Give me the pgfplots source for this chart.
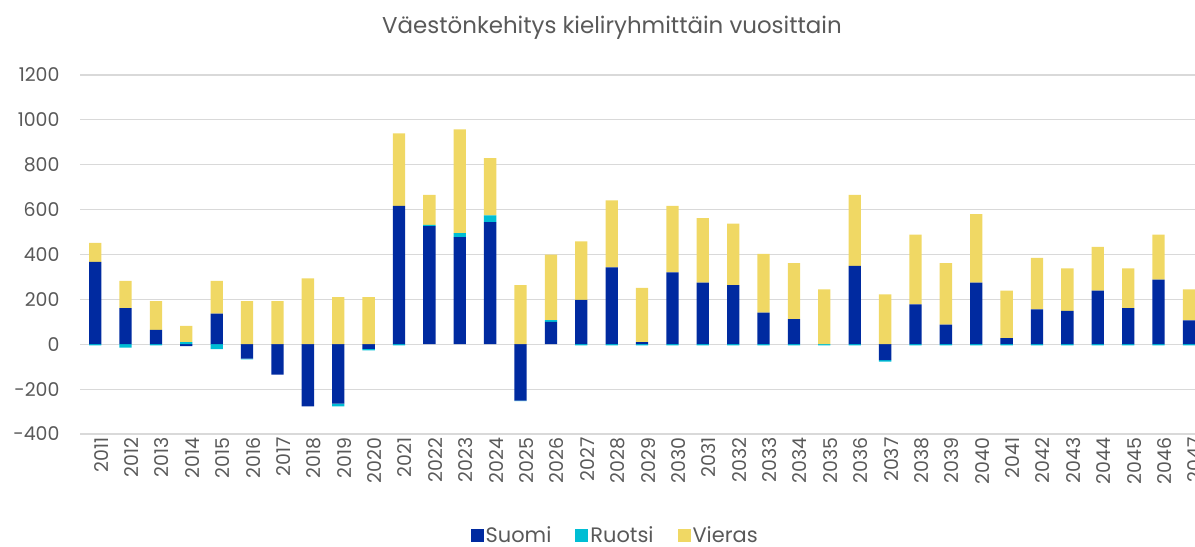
\documentclass[border=0pt]{standalone}
\usepackage{pgfplots}
\pgfplotsset{compat=1.18}
\usepackage{pgfplotstable}
\usepackage{fontspec}
\setmainfont{Poppins}
\definecolor{suomi}{RGB}{0,42,160}
\definecolor{ruotsi}{RGB}{0,190,212}
\definecolor{vieras}{RGB}{240,216,100}
\definecolor{txt}{RGB}{89,89,89}
\definecolor{grd}{RGB}{217,217,217}

\pgfplotstableread{
x s r v
0 367 -5 85
1 161 -15 122
2 64 -5 128
3 -8 9 73
4 137 -22 146
5 -64 -3 192
6 -135 0 192
7 -277 0 294
8 -265 -12 210
9 -21 -6 210
10 617 -5 323
11 526 6 134
12 477 18 463
13 544 30 256
14 -251 -2 263
15 100 7 292
16 198 -5 260
17 343 -5 298
18 9 -5 242
19 320 -5 297
20 275 -5 287
21 263 -5 275
22 141 -5 262
23 112 -5 249
24 0 -5 245
25 349 -5 317
26 -71 -6 222
27 178 -5 311
28 88 -5 273
29 275 -5 305
30 27 -5 212
31 155 -5 230
32 149 -5 189
33 239 -5 195
34 161 -5 177
35 288 -5 201
36 106 -5 139
}\data

\pgfplotsset{common/.style={
  scale only axis, width=1115bp, height=359bp,
  at={(80bp,113bp)}, anchor=south west,
  xmin=-0.5, xmax=36.2, ymin=-400, ymax=1200,
  ybar stacked, bar width=12.3bp,
  axis line style={draw=none}, major tick length=0pt,
  xtick={0,...,36}, ytick={-400,-200,...,1200},
}}

\begin{document}
\begin{tikzpicture}
\useasboundingbox (0,0) rectangle (1195bp,547bp);
\node[text=txt, font=\fontsize{23}{27}\selectfont] at (612bp,519bp) {Väestönkehitys kieliryhmittäin vuosittain};
% negative parts, with grid and tick labels
\begin{axis}[common,
  ymajorgrids, grid style={grd, line width=1.2bp},
  xticklabels={2011,2012,2013,2014,2015,2016,2017,2018,2019,2020,2021,2022,2023,2024,2025,2026,2027,2028,2029,2030,2031,2032,2033,2034,2035,2036,2037,2038,2039,2040,2041,2042,2043,2044,2045,2046,2047},
  x tick label style={rotate=90, anchor=east, text=txt, font=\fontsize{19}{22}\selectfont, yshift=-6bp},
  y tick label style={anchor=east, text=txt, font=\fontsize{19}{22}\selectfont, xshift=-17bp},
  /pgf/number format/assume math mode=true,
  /pgf/number format/1000 sep={},
]
\addplot[fill=suomi, draw=none] table[x=x, y expr={min(\thisrow{s},0)}] {\data};
\addplot[fill=ruotsi, draw=none] table[x=x, y expr={min(\thisrow{r},0)}] {\data};
\addplot[fill=vieras, draw=none] table[x=x, y expr={min(\thisrow{v},0)}] {\data};
\end{axis}
% positive parts and legend
\begin{axis}[common,
  xticklabels={}, yticklabels={},
  legend style={at={(0.48,-0.282)}, anchor=center, draw=none, fill=none,
    legend columns=3, text=txt, font=\fontsize{21}{24}\selectfont,
    /tikz/every even column/.append style={column sep=22bp}},
  legend image code/.code={\fill[#1] (0bp,-6.5bp) rectangle (13bp,6.5bp);},
]
\addplot[fill=suomi, draw=none] table[x=x, y expr={max(\thisrow{s},0)}] {\data};
\addlegendentry{Suomi}
\addplot[fill=ruotsi, draw=none] table[x=x, y expr={max(\thisrow{r},0)}] {\data};
\addlegendentry{Ruotsi}
\addplot[fill=vieras, draw=none] table[x=x, y expr={max(\thisrow{v},0)}] {\data};
\addlegendentry{Vieras}
\end{axis}
\end{tikzpicture}
\end{document}
